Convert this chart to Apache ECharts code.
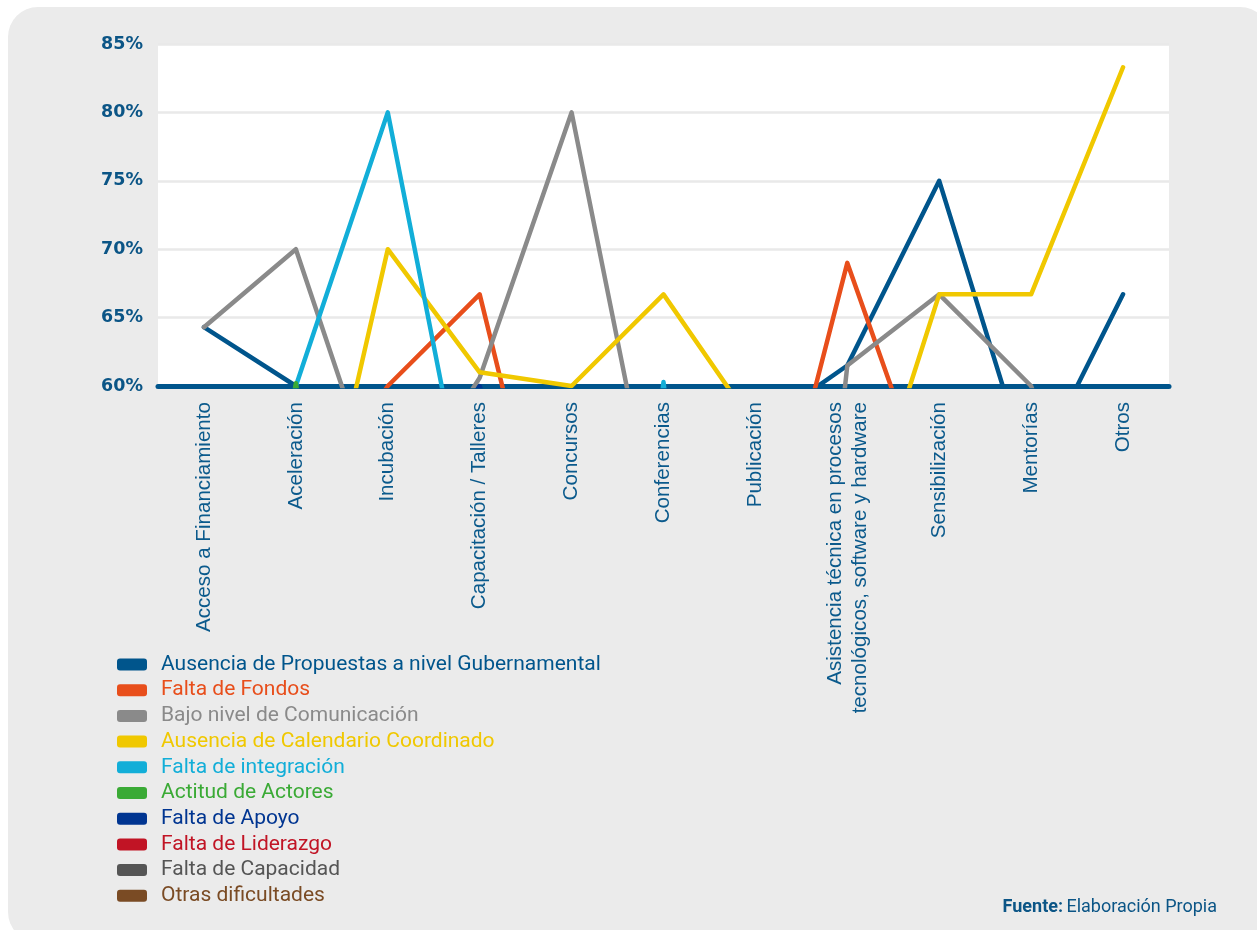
<!DOCTYPE html>
<html>
<head>
<meta charset="utf-8">
<script src="https://cdn.jsdelivr.net/npm/echarts@6/dist/echarts.min.js"></script>
<style>
  html, body { margin: 0; padding: 0; background: #ffffff; width: 1257px; height: 930px; overflow: hidden; }
  #panel { position: absolute; left: 8px; top: 7px; width: 1262px; height: 935px; background: #ebebeb; border-radius: 30px; }
  #chart { position: absolute; left: 0; top: 0; width: 1257px; height: 930px; }
</style>
</head>
<body>
<div id="panel"></div>
<div id="chart"></div>
<script>
// ---- Data ----
const categories = [
  'Acceso a Financiamiento',
  'Aceleración',
  'Incubación',
  'Capacitación / Talleres',
  'Concursos',
  'Conferencias',
  'Publicación',
  'Asistencia técnica en procesos\ntecnológicos, software y hardware',
  'Sensibilización',
  'Mentorías',
  'Otros'
];
const yTicks = [60, 65, 70, 75, 80, 85];

const seriesNames = [
  'Ausencia de Propuestas a nivel Gubernamental',
  'Falta de Fondos',
  'Bajo nivel de Comunicación',
  'Ausencia de Calendario Coordinado',
  'Falta de integración',
  'Actitud de Actores',
  'Falta de Apoyo',
  'Falta de Liderazgo',
  'Falta de Capacidad',
  'Otras dificultades'
];

// values in %, values under 60% fall below the visible axis range
const ausenciaPropuestas = [64.3, 60, 50, 50, 50, 50, 56.8, 61.5, 75, 53.3, 66.7];
const faltaFondos        = [40, 50, 60, 66.7, 39.4, 40, 42.9, 69, 50, 40, 50];
const bajoComunicacion   = [64.3, 70, 50, 60.6, 80, 46.6, 0, 61.5, 66.7, 60, 40];
const calendario         = [40, 40.6, 70, 61, 60, 66.7, 57, 45.7, 66.7, 66.7, 83.3];
const integracion        = [40, 60, 80, 45.9, 0, 60.3, 0, 0, 0, 0, 0];
const actitudActores     = [20, 60.2, 20, 20, 0, 20, 0, 20, 0, 0, 20];
const faltaApoyo         = [30, 40, 50, 60, 40, 30, 20, 30, 40, 30, 20];
const faltaLiderazgo     = [20, 30, 40, 30, 20, 30, 20, 40, 30, 20, 30];
const faltaCapacidad     = [20, 20, 30, 40, 30, 20, 20, 30, 20, 30, 20];
const otrasDificultades  = [10, 20, 10, 20, 30, 20, 10, 20, 30, 20, 40];

const seriesValues = [ausenciaPropuestas, faltaFondos, bajoComunicacion, calendario, integracion,
  actitudActores, faltaApoyo, faltaLiderazgo, faltaCapacidad, otrasDificultades];

const colors = ['#00558c', '#e84e1b', '#8a8a8a', '#f0c800', '#12aed8', '#3aaa35', '#003591', '#c11425', '#555555', '#7a4b24'];

const chart = echarts.init(document.getElementById('chart'), null, { renderer: 'canvas' });

const option = {
  animation: false,
  backgroundColor: 'transparent',
  grid: { left: 158, right: 88, top: 44, bottom: 544, show: true, backgroundColor: '#ffffff', borderWidth: 0 },
  legend: {
    orient: 'vertical',
    left: 117,
    top: 654,
    padding: 0,
    icon: 'roundRect',
    itemWidth: 30,
    itemHeight: 12,
    itemGap: 4.7,
    selectedMode: false,
    data: seriesNames.map((n, i) => ({ name: n, textStyle: { color: colors[i] } })),
    textStyle: { fontFamily: 'Roboto', fontSize: 21, lineHeight: 21, padding: [0, 0, 0, 9] }
  },
  xAxis: {
    type: 'category',
    data: categories,
    boundaryGap: true,
    axisLine: { show: true, onZero: false, lineStyle: { color: '#00558c', width: 5, cap: 'round' } },
    axisTick: { show: false },
    axisLabel: {
      rotate: 90,
      interval: 0,
      margin: 16,
      color: '#0b5a8c',
      fontFamily: 'Liberation Sans',
      fontSize: 20.6,
      lineHeight: 25
    },
    splitLine: { show: false }
  },
  yAxis: {
    type: 'value',
    min: yTicks[0],
    max: yTicks[yTicks.length - 1],
    interval: 5,
    axisLine: { show: false },
    axisTick: { show: false },
    axisLabel: {
      formatter: '{value}%',
      color: '#0b5586',
      fontFamily: 'DejaVu Sans',
      fontWeight: 'bold',
      fontSize: 17.5,
      margin: 15
    },
    splitLine: { lineStyle: { color: '#e9e9e9', width: 2.5 } }
  },
  series: seriesNames.map((n, i) => ({
    name: n,
    type: 'line',
    data: seriesValues[i],
    showSymbol: false,
    clip: true,
    itemStyle: { color: colors[i] },
    lineStyle: { color: colors[i], width: 4.5, cap: 'round', join: 'round' }
  })),
  graphic: [{
    type: 'text',
    right: 40,
    top: 898,
    style: {
      text: '{b|Fuente:} {r|Elaboración Propia}',
      rich: {
        b: { fontFamily: 'Roboto', fontWeight: 'bold', fontSize: 18, fill: '#0b5586' },
        r: { fontFamily: 'Roboto', fontSize: 18, fill: '#0b5586' }
      }
    }
  }]
};
chart.setOption(option);
</script>
</body>
</html>
